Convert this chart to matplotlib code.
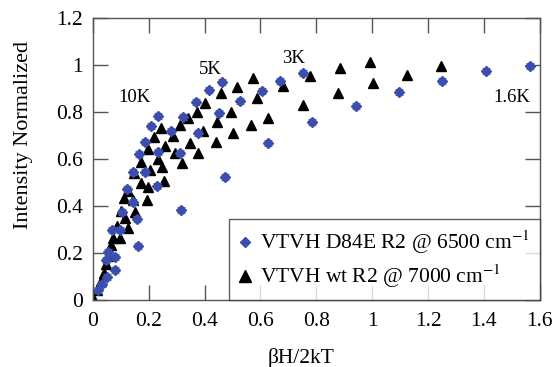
import matplotlib
matplotlib.use("Agg")
import matplotlib.pyplot as plt
from matplotlib.lines import Line2D

plt.rcParams['font.family'] = ['Liberation Serif', 'DejaVu Serif']
plt.rcParams['mathtext.fontset'] = 'stix'

# D84E (blue diamonds with error bars)
d84e_x = [0.018, 0.032, 0.050, 0.079, 0.047, 0.054, 0.079, 0.068, 0.097, 0.104,
          0.157, 0.161, 0.143, 0.122, 0.143, 0.165, 0.186, 0.208, 0.233, 0.186,
          0.229, 0.233, 0.279, 0.311, 0.322, 0.315, 0.369, 0.376, 0.415, 0.451,
          0.462, 0.472, 0.526, 0.605, 0.626, 0.669, 0.751, 0.784, 0.941, 1.095,
          1.249, 1.406, 1.564]
d84e_y = [0.043, 0.068, 0.098, 0.128, 0.170, 0.204, 0.183, 0.298, 0.298, 0.374,
          0.345, 0.230, 0.417, 0.472, 0.545, 0.621, 0.672, 0.740, 0.783, 0.545,
          0.485, 0.630, 0.719, 0.626, 0.779, 0.383, 0.843, 0.711, 0.894, 0.796,
          0.928, 0.523, 0.847, 0.889, 0.668, 0.932, 0.966, 0.757, 0.826, 0.885,
          0.932, 0.974, 0.996]
d84e_err = [0.012] * len(d84e_x)

# wt (black triangles)
wt_x = [0.004, 0.014, 0.029, 0.039, 0.047, 0.054, 0.064, 0.072, 0.086, 0.097,
        0.100, 0.115, 0.125, 0.111, 0.125, 0.143, 0.150, 0.193, 0.147, 0.172,
        0.197, 0.172, 0.204, 0.254, 0.197, 0.233, 0.247, 0.218, 0.243, 0.258,
        0.293, 0.319, 0.311, 0.286, 0.340, 0.347, 0.372, 0.376, 0.394, 0.401,
        0.440, 0.444, 0.458, 0.494, 0.501, 0.515, 0.565, 0.573, 0.587, 0.626,
        0.680, 0.752, 0.777, 0.877, 0.884, 0.991, 1.002, 1.124, 1.245]
wt_y = [0.000, 0.043, 0.081, 0.115, 0.153, 0.187, 0.234, 0.264, 0.315, 0.264,
        0.379, 0.349, 0.306, 0.434, 0.464, 0.426, 0.374, 0.426, 0.540, 0.498,
        0.481, 0.587, 0.553, 0.506, 0.643, 0.600, 0.566, 0.694, 0.732, 0.655,
        0.626, 0.583, 0.745, 0.698, 0.774, 0.668, 0.800, 0.626, 0.719, 0.838,
        0.672, 0.757, 0.881, 0.800, 0.711, 0.906, 0.745, 0.945, 0.860, 0.774,
        0.911, 0.830, 0.953, 0.881, 0.987, 1.013, 0.923, 0.957, 0.996]

temp_labels = ["10K", "5K", "3K", "1.6K"]
temp_label_x = [0.15, 0.42, 0.72, 1.50]
temp_label_y = [0.86, 0.98, 1.03, 0.86]

xticks = [0, 0.2, 0.4, 0.6, 0.8, 1, 1.2, 1.4, 1.6]
xticklabels = ["0", "0.2", "0.4", "0.6", "0.8", "1", "1.2", "1.4", "1.6"]
yticks = [0, 0.2, 0.4, 0.6, 0.8, 1, 1.2]
yticklabels = ["0", "0.2", "0.4", "0.6", "0.8", "1", "1.2"]

blue = '#3a4db0'
spine_c = '#555555'

fig = plt.figure(figsize=(5.53, 3.67), dpi=100)
ax = fig.add_axes([0.168, 0.1826, 0.808, 0.768])

ax.plot(wt_x, wt_y, linestyle='none', marker='^', ms=7, color='black', zorder=2)
ax.errorbar(d84e_x, d84e_y, yerr=d84e_err, fmt='D', ms=5, color=blue,
            ecolor='#777777', elinewidth=0.8, capsize=3, capthick=0.8, zorder=3)

for t, x, y in zip(temp_labels, temp_label_x, temp_label_y):
    ax.text(x, y, t, ha='center', va='center', fontsize=13.5)

ax.set_xlim(0, 1.6)
ax.set_ylim(0, 1.2)
ax.set_xticks(xticks)
ax.set_xticklabels(xticklabels)
ax.set_yticks(yticks)
ax.set_yticklabels(yticklabels)
ax.tick_params(direction='in', length=11, width=1, color=spine_c,
               top=True, right=True, labelsize=15.5)
ax.tick_params(axis='x', pad=9)
ax.tick_params(axis='y', pad=7)
for s in ax.spines.values():
    s.set_color(spine_c)
    s.set_linewidth(1)

ax.set_xlabel("βH/2kT", fontsize=15.5)
ax.set_ylabel("Intensity Normalized", fontsize=16)
ax.xaxis.set_label_coords(0.465, -0.17)
ax.yaxis.set_label_coords(-0.134, 0.585)

handles = [Line2D([], [], linestyle='none', marker='D', ms=5, color=blue),
           Line2D([], [], linestyle='none', marker='^', ms=9, color='black')]
labels = ["VTVH D84E R2 @ 6500 cm$^{-1}$", "VTVH wt R2 @ 7000 cm$^{-1}$"]
leg = ax.legend(handles, labels, loc='lower right', bbox_to_anchor=(1.0, 0.0),
                fontsize=15.5, frameon=True, fancybox=False, borderaxespad=0,
                handletextpad=0.4, handlelength=0.6, borderpad=0.45, labelspacing=0.3)
leg.get_frame().set_edgecolor('#333333')
leg.get_frame().set_linewidth(1)

fig.savefig("out.png", dpi=100)
